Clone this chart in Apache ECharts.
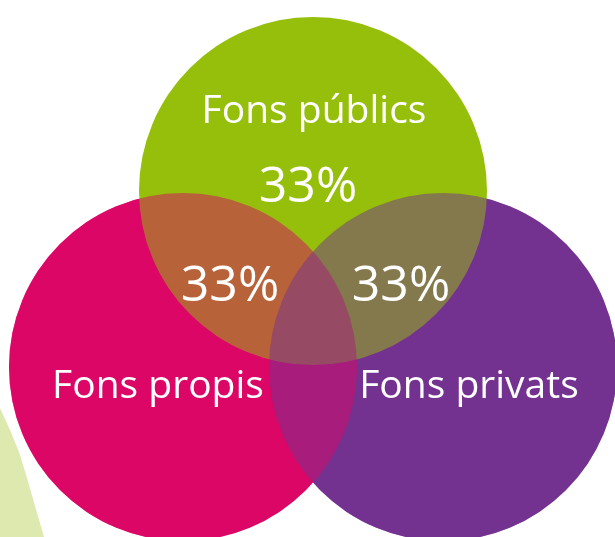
<!DOCTYPE html>
<html><head><meta charset="utf-8">
<script src="https://cdn.jsdelivr.net/npm/echarts@6/dist/echarts.min.js"></script>
<style>html,body{margin:0;padding:0;background:#fff}#c{width:615px;height:537px}</style>
</head><body><div id="c"></div>
<script>
// ---- data ----
const setNames = ['Fons propis', 'Fons privats', 'Fons públics'];
const setCenterX = [183, 443, 313];
const setCenterY = [367, 367, 191];
const setRadius = [174, 174, 174];
const regionNames = ['Fons públics', 'Fons públics ∩ Fons propis', 'Fons públics ∩ Fons privats'];
const regionValues = [33, 33, 33];

// ---- styles / layout ----
const setColors = ['#DC0667', '#733190', '#95BF0B'];
const solidOrder = [1, 0, 2];      // draw order of opaque circles
const blendOrder = [0, 1];         // half-transparent re-draws to mix overlaps
const setLabelPos = [[158, 387], [469, 387], [314, 112]];
const regionLabelPos = [[230, 188], [230, 287], [401, 287]];
regionLabelPos[0][0] = 308;
const nameFont = '39px "Open Sans"';
const pctFont = '50px "Open Sans"';

const chart = echarts.init(document.getElementById('c'), null, {renderer: 'canvas'});

function circleData(order, alpha) {
  return order.map(i => ({value: [setCenterX[i], setCenterY[i], setRadius[i], i, alpha], name: setNames[i]}));
}
function renderCircle(params, api) {
  const c = api.coord([api.value(0), api.value(1)]);
  const r = api.size([api.value(2), 0])[0];
  const idx = api.value(3);
  return {type: 'circle', shape: {cx: c[0], cy: c[1], r: r},
          style: {fill: setColors[idx], opacity: api.value(4)}};
}
function renderText(font) {
  return function (params, api) {
    const c = api.coord([api.value(0), api.value(1)]);
    return {type: 'text', x: c[0], y: c[1],
            style: {text: api.value(2), fill: '#ffffff', font: font,
                    textAlign: 'center', textVerticalAlign: 'middle', align: 'center', verticalAlign: 'middle'}};
  };
}

const option = {
  animation: false,
  backgroundColor: '#ffffff',
  grid: {left: 0, right: 0, top: 0, bottom: 0},
  xAxis: {type: 'value', min: 0, max: 615, show: false},
  yAxis: {type: 'value', min: 0, max: 537, inverse: true, show: false},
  graphic: [{
    type: 'polygon', z: 0, silent: true,
    shape: {points: [[0, 408], [10, 430], [19, 452], [27, 478], [35, 506], [44, 537], [0, 537]]},
    style: {fill: '#DDE9AF'}
  }],
  series: [
    {type: 'custom', name: 'sets', z: 2, silent: true, renderItem: renderCircle,
     data: circleData(solidOrder, 1)},
    {type: 'custom', name: 'overlaps', z: 3, silent: true, renderItem: renderCircle,
     data: circleData(blendOrder, 0.5)},
    {type: 'custom', name: 'setLabels', z: 4, silent: true, renderItem: renderText(nameFont),
     dimensions: ['x', 'y', {name: 'label', type: 'ordinal'}],
     data: setNames.map((n, i) => [setLabelPos[i][0], setLabelPos[i][1], n])},
    {type: 'custom', name: 'regionLabels', z: 4, silent: true, renderItem: renderText(pctFont),
     dimensions: ['x', 'y', {name: 'label', type: 'ordinal'}],
     data: regionValues.map((v, i) => [regionLabelPos[i][0], regionLabelPos[i][1], v + '%'])}
  ]
};
chart.setOption(option);
</script></body></html>
